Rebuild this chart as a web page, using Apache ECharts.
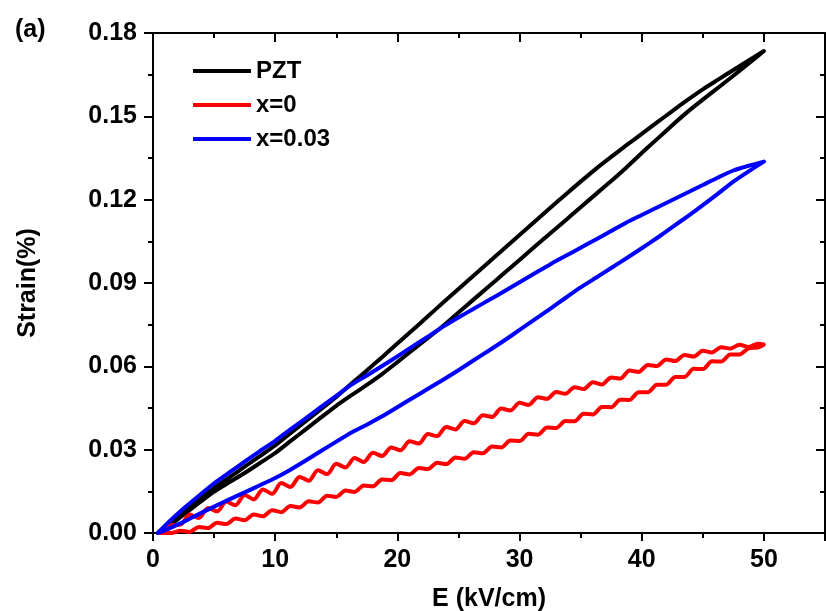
<!DOCTYPE html>
<html><head><meta charset="utf-8">
<script src="https://cdn.jsdelivr.net/npm/echarts@6/dist/echarts.min.js"></script>
<style>html,body{margin:0;padding:0;background:#fff}#c{width:826px;height:611px}</style>
</head><body><div id="c"></div>
<script>
// ---- data ----
const seriesNames = ['PZT', 'x=0', 'x=0.03'];

// coarse field grid (kV/cm) for PZT and x=0.03
const coarseE = [0.4, 1.25, 2.5, 3.75, 5, 6.25, 7.5, 8.75, 10, 11.25,
  12.5, 13.75, 15, 16.25, 17.5, 18.75, 20, 21.25, 22.5, 23.75,
  25, 26.25, 27.5, 28.75, 30, 31.25, 32.5, 33.75, 35, 36.25,
  37.5, 38.75, 40, 41.25, 42.5, 43.75, 45, 46.25, 47.5, 48.75, 50];

const pztRise = [0, 0.0024, 0.0066, 0.0108, 0.0149, 0.0183, 0.0216, 0.0252, 0.0288, 0.0331,
  0.0373, 0.0416, 0.0458, 0.0496, 0.0533, 0.0572, 0.0615, 0.0659, 0.0702, 0.0746,
  0.0794, 0.0841, 0.0888, 0.0936, 0.0983, 0.1031, 0.1078, 0.1125, 0.1173, 0.1220,
  0.1267, 0.1316, 0.1368, 0.1418, 0.1468, 0.1516, 0.1560, 0.1603, 0.1646, 0.1690, 0.1735];
const pztFall = [0, 0.0033, 0.0076, 0.0119, 0.0162, 0.0200, 0.0239, 0.0277, 0.0315, 0.0359,
  0.0403, 0.0446, 0.0490, 0.0538, 0.0585, 0.0633, 0.0682, 0.0731, 0.0780, 0.0830,
  0.0878, 0.0927, 0.0976, 0.1024, 0.1073, 0.1121, 0.1170, 0.1218, 0.1265, 0.1311,
  0.1354, 0.1396, 0.1437, 0.1478, 0.1519, 0.1559, 0.1597, 0.1632, 0.1667, 0.1701, 0.1735];

const x003Rise = [0, 0.0015, 0.0040, 0.0068, 0.0095, 0.0121, 0.0146, 0.0172, 0.0198, 0.0228,
  0.0261, 0.0295, 0.0329, 0.0362, 0.0390, 0.0420, 0.0453, 0.0486, 0.0519, 0.0552,
  0.0586, 0.0622, 0.0657, 0.0693, 0.0731, 0.0769, 0.0807, 0.0846, 0.0884, 0.0919,
  0.0954, 0.0989, 0.1025, 0.1062, 0.1101, 0.1140, 0.1180, 0.1222, 0.1265, 0.1302, 0.1337];
const x003Fall = [0, 0.0038, 0.0088, 0.0134, 0.0179, 0.0218, 0.0257, 0.0295, 0.0332, 0.0373,
  0.0413, 0.0454, 0.0494, 0.0534, 0.0567, 0.0601, 0.0636, 0.0672, 0.0707, 0.0743,
  0.0776, 0.0807, 0.0839, 0.0870, 0.0903, 0.0935, 0.0967, 0.0997, 0.1027, 0.1057,
  0.1087, 0.1118, 0.1145, 0.1172, 0.1199, 0.1226, 0.1253, 0.1280, 0.1305, 0.1322, 0.1337];

// fine field grid (kV/cm) for x=0 (strongly rippled trace)
const fineE = [0.5, 1.5, 2.25, 3, 3.75, 4.5, 5.25, 6, 6.75, 7.5,
  8.25, 9, 9.75, 10.5, 11.25, 12, 12.75, 13.5, 14.25, 15,
  15.75, 16.5, 17.25, 18, 18.75, 19.5, 20.25, 21, 21.75, 22.5,
  23.25, 24, 24.75, 25.5, 26.25, 27, 27.75, 28.5, 29.25, 30,
  30.75, 31.5, 32.25, 33, 33.75, 34.5, 35.25, 36, 36.75, 37.5,
  38.25, 39, 39.75, 40.5, 41.25, 42, 42.75, 43.5, 44.25, 45,
  45.75, 46.5, 47.25, 48, 48.75, 49.5, 50];

const x0Rise = [0, 0.0000, 0.0008, 0.0004, 0.0022, 0.0018, 0.0037, 0.0032, 0.0052, 0.0046,
  0.0067, 0.0060, 0.0082, 0.0075, 0.0097, 0.0092, 0.0114, 0.0110, 0.0134, 0.0130,
  0.0153, 0.0148, 0.0171, 0.0168, 0.0193, 0.0190, 0.0216, 0.0211, 0.0234, 0.0230,
  0.0253, 0.0248, 0.0272, 0.0267, 0.0291, 0.0287, 0.0311, 0.0308, 0.0333, 0.0331,
  0.0357, 0.0354, 0.0380, 0.0378, 0.0403, 0.0402, 0.0429, 0.0427, 0.0454, 0.0453,
  0.0480, 0.0479, 0.0507, 0.0507, 0.0534, 0.0534, 0.0562, 0.0562, 0.0591, 0.0590,
  0.0618, 0.0617, 0.0643, 0.0643, 0.0665, 0.0668, 0.0679];
const x0Fall = [0, 0.0028, 0.0030, 0.0067, 0.0054, 0.0090, 0.0078, 0.0113, 0.0100, 0.0137,
  0.0121, 0.0157, 0.0141, 0.0180, 0.0166, 0.0202, 0.0188, 0.0226, 0.0212, 0.0249,
  0.0236, 0.0270, 0.0256, 0.0289, 0.0277, 0.0308, 0.0298, 0.0330, 0.0322, 0.0356,
  0.0349, 0.0382, 0.0373, 0.0403, 0.0395, 0.0424, 0.0418, 0.0448, 0.0441, 0.0469,
  0.0461, 0.0489, 0.0483, 0.0508, 0.0501, 0.0525, 0.0518, 0.0543, 0.0535, 0.0560,
  0.0556, 0.0585, 0.0580, 0.0605, 0.0601, 0.0625, 0.0619, 0.0641, 0.0635, 0.0656,
  0.0650, 0.0669, 0.0664, 0.0678, 0.0670, 0.0681, 0.0679];

const xTickLabels = ['0', '10', '20', '30', '40', '50'];
const yTickLabels = ['0.00', '0.03', '0.06', '0.09', '0.12', '0.15', '0.18'];
const panelLabel = '(a)';

// ---- build closed loops: rising branch then falling branch ----
function loop(E, rise, fall) {
  const pts = [];
  for (let i = 0; i < E.length; i++) pts.push([E[i], rise[i]]);
  for (let i = E.length - 1; i >= 0; i--) pts.push([E[i], fall[i]]);
  return pts;
}

const FONT = "'Liberation Sans', Arial, sans-serif";
const BLK = '#000';
const lblStyle = { fontSize: 25, fontWeight: 'bold', color: BLK, fontFamily: FONT };
function ls() { return { color: BLK, width: 2 }; }

const chart = echarts.init(document.getElementById('c'), null, { renderer: 'canvas' });
chart.setOption({
  animation: false,
  backgroundColor: '#fff',
  title: {
    text: panelLabel, left: 15, top: 16, padding: 0,
    textStyle: { fontSize: 25, fontWeight: 'bold', fontFamily: FONT, color: BLK, lineHeight: 28 }
  },
  grid: { left: 153, right: 1, top: 33, bottom: 78, containLabel: false, outerBoundsMode: 'none' },
  legend: {
    data: seriesNames, orient: 'vertical', left: 188, top: 51,
    itemWidth: 58, itemHeight: 4, itemGap: 4, icon: 'rect',
    textStyle: { fontSize: 24, fontWeight: 'bold', fontFamily: FONT, color: BLK, lineHeight: 30 }
  },
  xAxis: [
    {
      type: 'value', position: 'bottom', min: 0, max: 55, interval: 10,
      axisLine: { show: true, onZero: false, lineStyle: ls() },
      axisTick: { show: true, inside: false, length: 8, lineStyle: ls() },
      minorTick: { show: true, splitNumber: 2, length: 5, lineStyle: ls() },
      axisLabel: Object.assign({ show: true, margin: 15, showMaxLabel: false,
        formatter: v => (xTickLabels.indexOf(String(v)) >= 0 ? String(v) : '') }, lblStyle),
      splitLine: { show: false },
      name: 'E (kV/cm)', nameLocation: 'middle', nameGap: 54,
      nameTextStyle: { fontSize: 25, fontWeight: 'bold', fontFamily: FONT, color: BLK }
    },
    {
      type: 'value', position: 'top', min: 0, max: 55, interval: 10,
      axisLine: { show: true, onZero: false, lineStyle: ls() },
      axisTick: { show: true, inside: true, length: 9, lineStyle: ls() },
      minorTick: { show: true, splitNumber: 2, length: 5, lineStyle: ls() },
      axisLabel: { show: false }, splitLine: { show: false }
    }
  ],
  yAxis: [
    {
      type: 'value', position: 'left', min: 0, max: 0.18, interval: 0.03,
      axisLine: { show: true, onZero: false, lineStyle: ls() },
      axisTick: { show: true, inside: false, length: 9, lineStyle: ls() },
      minorTick: { show: true, splitNumber: 2, length: 5, lineStyle: ls() },
      axisLabel: Object.assign({ show: true, margin: 16,
        formatter: v => {
          const s = (Math.round(v * 100) / 100).toFixed(2);
          return yTickLabels.indexOf(s) >= 0 ? s : '';
        } }, lblStyle),
      splitLine: { show: false },
      name: 'Strain(%)', nameLocation: 'middle', nameGap: 112,
      nameTextStyle: { fontSize: 25, fontWeight: 'bold', fontFamily: FONT, color: BLK }
    },
    {
      type: 'value', position: 'right', min: 0, max: 0.18, interval: 0.03,
      axisLine: { show: true, onZero: false, lineStyle: ls() },
      axisTick: { show: true, inside: true, length: 9, lineStyle: ls() },
      minorTick: { show: true, splitNumber: 2, length: 5, lineStyle: ls() },
      axisLabel: { show: false }, splitLine: { show: false }
    }
  ],
  series: [
    { name: seriesNames[0], type: 'line', data: loop(coarseE, pztRise, pztFall), color: '#000000', smooth: 0.2 },
    { name: seriesNames[1], type: 'line', data: loop(fineE, x0Rise, x0Fall), color: '#ff0000', smooth: 0.3 },
    { name: seriesNames[2], type: 'line', data: loop(coarseE, x003Rise, x003Fall), color: '#0000ff', smooth: 0.2 }
  ].map(s => Object.assign(s, {
    xAxisIndex: 0, yAxisIndex: 0, showSymbol: false, symbol: 'none',
    lineStyle: { width: 4, color: s.color, join: 'round', cap: 'round' },
    itemStyle: { color: s.color }
  }))
});
</script></body></html>
